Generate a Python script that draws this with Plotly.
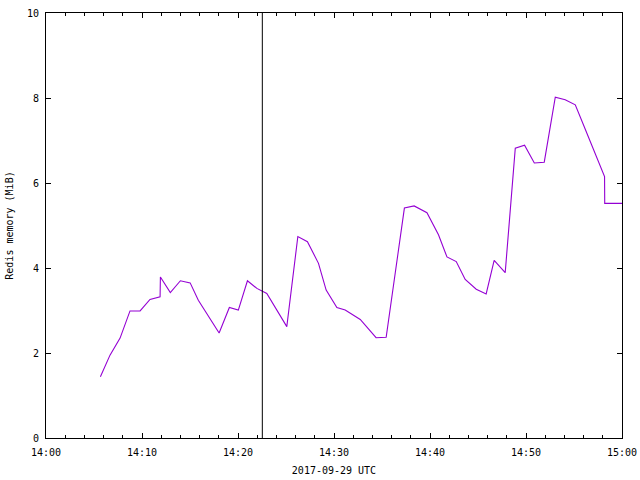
import plotly.graph_objects as go

DAY = "2017-09-29"
times = [
    "14:05:40", "14:06:40", "14:07:43", "14:08:45", "14:09:48", "14:10:50",
    "14:11:53", "14:11:55", "14:12:57", "14:14:00", "14:15:01", "14:15:52",
    "14:18:02", "14:19:06", "14:20:02", "14:20:59", "14:21:58", "14:23:00",
    "14:25:05", "14:26:14", "14:27:14", "14:28:23", "14:29:11", "14:30:18",
    "14:31:10", "14:32:44", "14:34:23", "14:35:26", "14:37:20", "14:38:21",
    "14:39:41", "14:40:53", "14:41:46", "14:42:44", "14:43:40", "14:44:49",
    "14:45:51", "14:46:41", "14:47:50", "14:48:53", "14:49:51", "14:50:52",
    "14:51:54", "14:53:03", "14:54:05", "14:55:08", "14:56:11", "14:57:13",
    "14:58:11", "14:58:12", "15:00:00",
]
memory_mib = [
    1.44, 1.95, 2.35, 2.99, 2.99, 3.26,
    3.32, 3.79, 3.42, 3.70, 3.65, 3.24,
    2.47, 3.07, 3.01, 3.70, 3.52, 3.40,
    2.62, 4.74, 4.62, 4.11, 3.48, 3.07,
    3.01, 2.79, 2.36, 2.37, 5.41, 5.46,
    5.30, 4.78, 4.26, 4.15, 3.73, 3.50,
    3.39, 4.18, 3.89, 6.82, 6.89, 6.47,
    6.49, 8.02, 7.96, 7.84, 7.26, 6.68,
    6.15, 5.52, 5.52,
]
marker_time = "14:22:32"
x_range = ["14:00:00", "15:00:00"]
y_range = [0, 10]

x = [f"{DAY} {t}" for t in times]

fig = go.Figure()
fig.add_trace(go.Scatter(
    x=x, y=memory_mib, mode="lines",
    line=dict(color="#9400d3", width=1.1),
    showlegend=False, hoverinfo="skip",
))

fig.add_shape(
    type="line", xref="x", yref="paper",
    x0=f"{DAY} {marker_time}", x1=f"{DAY} {marker_time}", y0=0, y1=1,
    line=dict(color="black", width=1),
)

font = dict(family="DejaVu Sans Mono", size=10, color="black")

fig.update_layout(
    width=640, height=480,
    margin=dict(l=46, r=18, t=13, b=42),
    paper_bgcolor="white", plot_bgcolor="white",
    font=font,
    xaxis=dict(
        type="date", automargin=False,
        range=[f"{DAY} {x_range[0]}", f"{DAY} {x_range[1]}"],
        tickformat="%H:%M", dtick=600000, tick0=f"{DAY} 14:00:00",
        ticks="inside", ticklen=5, tickcolor="black", tickwidth=1,
        ticklabelstandoff=5,
        minor=dict(dtick=120000, ticks="inside", ticklen=3, tickcolor="black", showgrid=False),
        showline=True, linecolor="black", linewidth=1, mirror="ticks",
        showgrid=False, zeroline=False,
        title=dict(text=f"{DAY} UTC", font=font, standoff=9),
        tickfont=font,
    ),
    yaxis=dict(
        automargin=False,
        range=y_range, dtick=2, tick0=0,
        ticks="inside", ticklen=5, tickcolor="black", tickwidth=1,
        ticklabelstandoff=4,
        showline=True, linecolor="black", linewidth=1, mirror="ticks",
        showgrid=False, zeroline=False,
        title=dict(text="Redis memory (MiB)", font=font, standoff=11),
        tickfont=font,
    ),
)

fig.write_html(
    "out.html",
    config={"displayModeBar": False, "staticPlot": True},
    post_script="document.body.style.margin='0';document.body.style.overflow='hidden';",
)
